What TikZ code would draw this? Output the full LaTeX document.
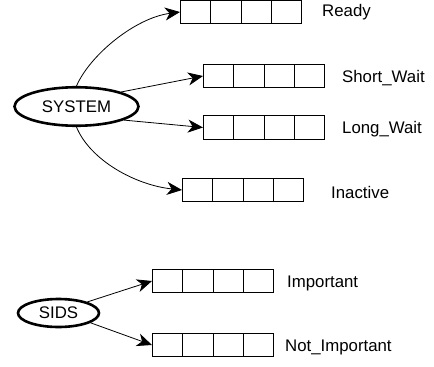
\documentclass[tikz,border=0pt]{standalone}
\usepackage{fontspec}
\setmainfont{Liberation Sans}
\usetikzlibrary{shapes.geometric,arrows.meta,calc}

\tikzset{
  queue/.style={draw, line width=1.2pt, minimum width=121pt, minimum height=23.5pt,
    inner sep=0pt, anchor=west,
    path picture={
      \foreach \k in {0.25,0.5,0.75}
        \draw[line width=0.9pt]
          ($(path picture bounding box.south west)!\k!(path picture bounding box.south east)$) --
          ($(path picture bounding box.north west)!\k!(path picture bounding box.north east)$);
    }},
  qlabel/.style={anchor=west, inner sep=0pt, font=\fontsize{16.8}{18}\selectfont},
  proc/.style={draw, ellipse, line width=2.6pt, inner sep=0pt,
    font=\fontsize{16.8}{18}\selectfont},
  link/.style={line width=0.8pt, -{Stealth[length=15pt, width=13pt, inset=4.5pt]}},
}

\begin{document}
\begin{tikzpicture}[x=1pt, y=-1pt]
  \useasboundingbox (0,0) rectangle (434,367);

  % process groups
  \node[proc, minimum width=124pt, minimum height=38.5pt] (sys) at (76.5,106.5) {SYSTEM};
  \node[proc, minimum width=81pt, minimum height=28pt] (sids) at (58.5,313) {SIDS};

  % queues of SYSTEM
  \node[queue] (ready) at (180,12) {};
  \node[queue] (short) at (203,76) {};
  \node[queue] (long)  at (203,127.5) {};
  \node[queue] (inact) at (182,190) {};

  % queues of SIDS
  \node[queue] (imp)    at (152,281) {};
  \node[queue] (notimp) at (152,345) {};

  % queue names
  \node[qlabel] (lready) at (322,12.5) {Ready};
  \node[qlabel] (lshort) at (342,78) {Short\_Wait};
  \node[qlabel] (llong)  at (342,129.5) {Long\_Wait};
  \node[qlabel] (linact) at (331,192) {Inactive};
  \node[qlabel] (limp)   at (287,283) {Important};
  \node[qlabel] (lnot)   at (285,347) {Not\_Important};

  % connectors
  \draw[link] (sys.north) .. controls (90,55) and (135,18) .. (ready.west);
  \draw[link] (sys.18) -- (short.west);
  \draw[link] (sys.-16) -- (long.west);
  \draw[link] (sys.south) .. controls (90,160) and (135,185) .. (inact.west);
  \draw[link] (sids.21) -- (imp.west);
  \draw[link] (sids.-17) -- (notimp.west);
\end{tikzpicture}
\end{document}
